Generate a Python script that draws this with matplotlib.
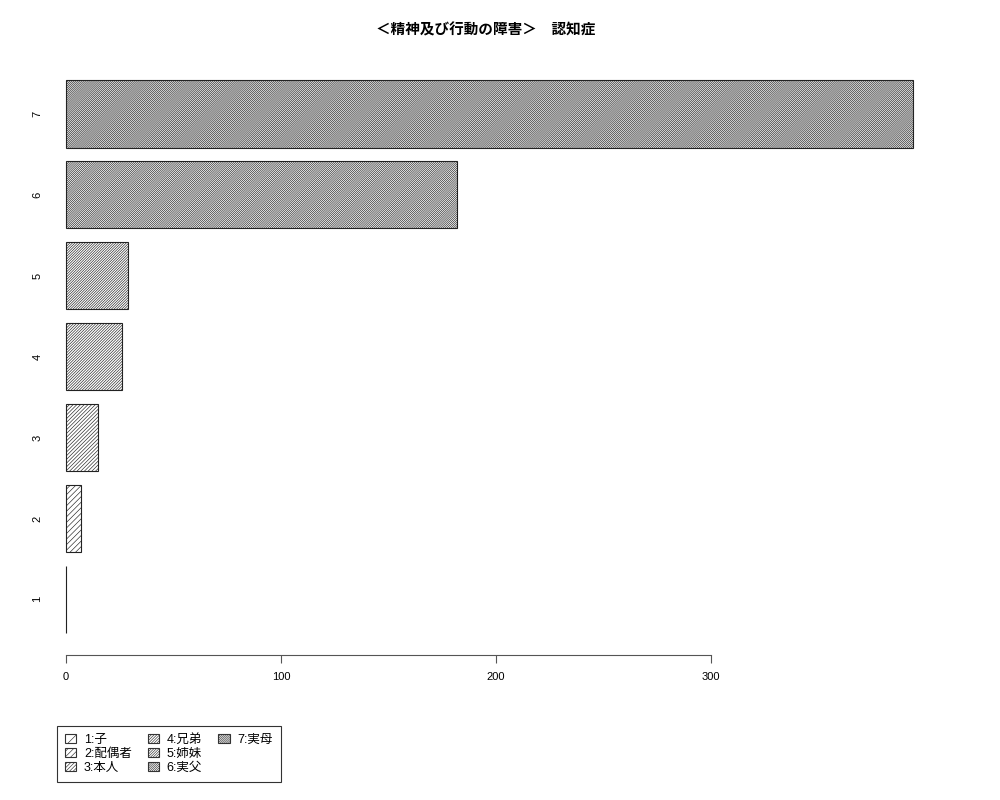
import matplotlib
matplotlib.use('Agg')
import numpy as np
import matplotlib.pyplot as plt
from matplotlib.patches import Patch

plt.rcParams['font.family'] = ['Liberation Sans', 'Noto Sans CJK JP', 'DejaVu Sans']
plt.rcParams['hatch.linewidth'] = 0.45
plt.rcParams['hatch.color'] = '#333333'

# 認知症 - 続柄別の件数
categories = ['1', '2', '3', '4', '5', '6', '7']
legend_labels = ['1:子', '2:配偶者', '3:本人', '4:兄弟', '5:姉妹', '6:実父', '7:実母']
values = [0, 7, 15, 26, 29, 182, 394]
hatches = ['///', '/' * 6, '/' * 9, '/' * 12, '/' * 13, '/' * 16, '/' * 17]
title = '＜精神及び行動の障害＞　認知症'

fig = plt.figure(figsize=(10, 8), dpi=100)
ax = fig.add_axes([0.032, 0.181, 0.915, 0.7465])

# barplot(horiz=TRUE) 風の配置: width=1, space=0.2
ypos = 0.2 + 0.5 + 1.2 * np.arange(len(values))
for y, v, h in zip(ypos, values, hatches):
    ax.barh(y, v, height=1.0, left=0, color='white', edgecolor='#222222',
            linewidth=0.8, hatch=h)

ax.set_xlim(-0.04 * max(values), 1.04 * max(values))
ax.set_ylim(0.2 - 0.04 * 8.2, 8.4 + 0.04 * 8.2)

for s in ['top', 'right', 'left']:
    ax.spines[s].set_visible(False)
ax.spines['bottom'].set_bounds(0, 300)
ax.spines['bottom'].set_color('#555555')
ax.set_xticks([0, 100, 200, 300])
ax.tick_params(axis='x', length=6, width=0.8, color='#555555', labelsize=8, pad=6)
ax.set_yticks(ypos)
ax.set_yticklabels(categories, rotation=90, va='center', ha='center', fontsize=8)
ax.tick_params(axis='y', length=0, pad=-4)

fig.text(0.486, 0.963, title, ha='center', va='center', fontsize=10.5,
         fontweight='bold', family=['Noto Sans CJK JP', 'DejaVu Sans'])

handles = [Patch(facecolor='white', edgecolor='#333333', hatch=h, linewidth=0.8)
           for h in hatches]
blank = Patch(facecolor='none', edgecolor='none')
leg = fig.legend(handles + [blank, blank], legend_labels + ['', ''], ncol=3,
                 loc='lower left', bbox_to_anchor=(0.057, 0.0225), borderaxespad=0,
                 frameon=True, fancybox=False, edgecolor='black', handlelength=0.9,
                 handleheight=0.8, handletextpad=0.6, columnspacing=1.3,
                 labelspacing=0.15, borderpad=0.65,
                 prop={'family': ['Liberation Sans', 'Noto Sans CJK JP'], 'size': 9})
leg.get_frame().set_linewidth(0.8)

fig.savefig('out.png', dpi=100)
